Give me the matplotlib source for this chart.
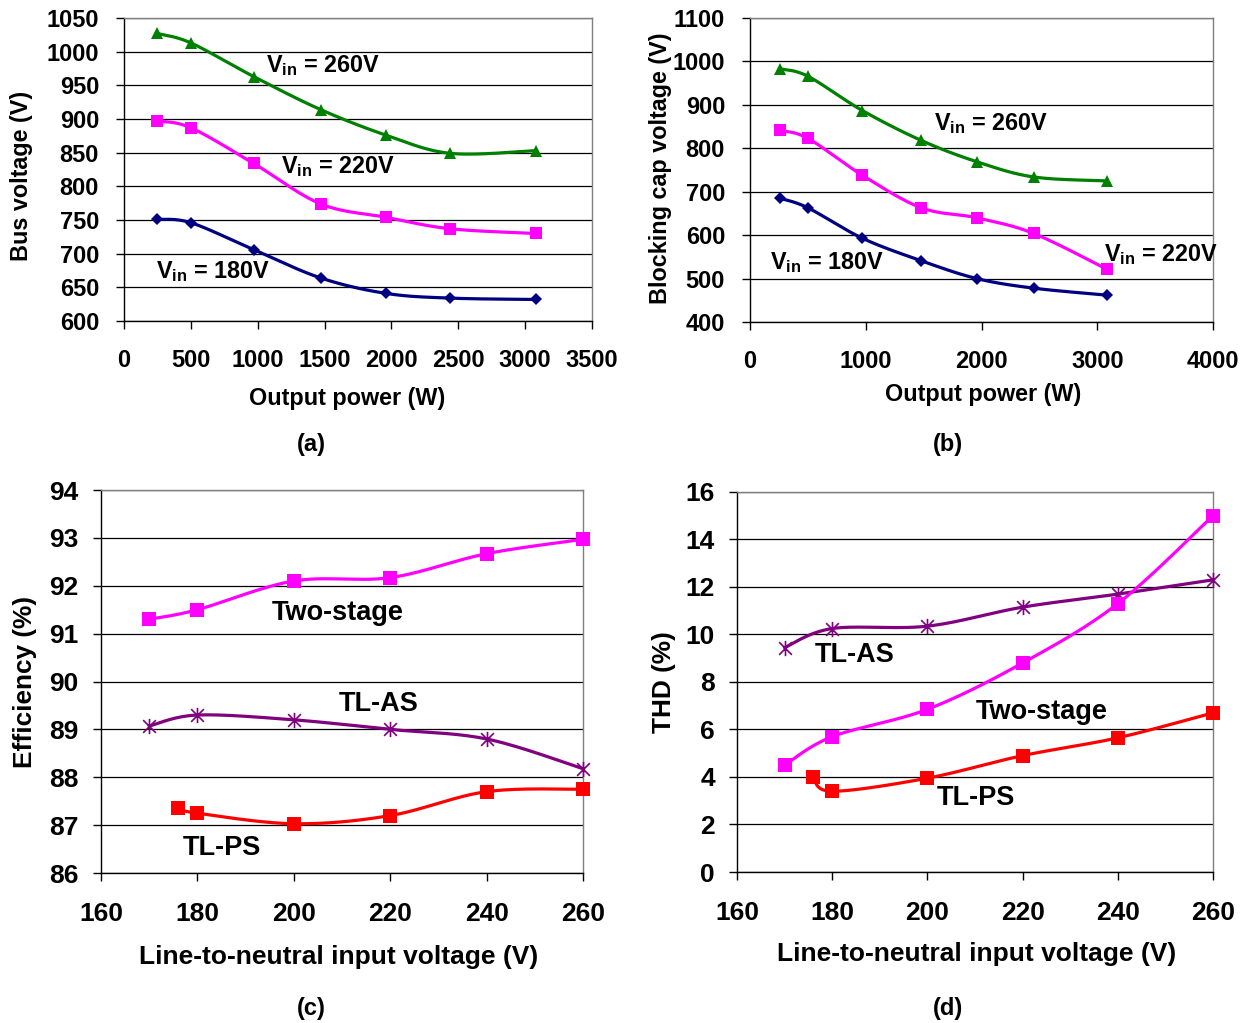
import numpy as np
import matplotlib
matplotlib.use("Agg")
import matplotlib.pyplot as plt
from matplotlib.path import Path

plt.rcParams['font.family'] = ['Liberation Sans', 'DejaVu Sans']
plt.rcParams['font.weight'] = 'bold'
plt.rcParams['mathtext.fontset'] = 'custom'
plt.rcParams['mathtext.rm'] = 'Liberation Sans:bold'
plt.rcParams['mathtext.it'] = 'Liberation Sans:bold'
plt.rcParams['mathtext.bf'] = 'Liberation Sans:bold'

# (a) bus voltage vs output power
pa_x = [250, 500, 970, 1470, 1960, 2440, 3080]
bus_260 = [1027, 1013, 963, 914, 876, 849, 853]
bus_220 = [897, 887, 834, 774, 754, 737, 730]
bus_180 = [751, 746, 706, 664, 641, 634, 632]

# (b) blocking cap voltage vs output power
pb_x = [260, 500, 970, 1480, 1960, 2450, 3080]
cap_260 = [983, 966, 887, 818, 769, 734, 725]
cap_220 = [841, 823, 738, 663, 640, 604, 522]
cap_180 = [685, 663, 593, 541, 500, 478, 462]

# (c) efficiency vs line-to-neutral voltage
vin = [170, 180, 200, 220, 240, 260]
vin_ps = [176, 180, 200, 220, 240, 260]
eff_two = [91.3, 91.5, 92.1, 92.17, 92.67, 92.97]
eff_as = [89.07, 89.3, 89.2, 89.0, 88.8, 88.18]
eff_ps = [87.35, 87.25, 87.03, 87.2, 87.7, 87.75]

# (d) THD
thd_as = [9.45, 10.25, 10.35, 11.15, 11.7, 12.3]
thd_two = [4.5, 5.7, 6.85, 8.8, 11.3, 15.0]
thd_ps = [4.0, 3.4, 3.95, 4.9, 5.65, 6.7]

GREEN = '#008000'
PINK = '#FF00FF'
NAVY = '#000080'
PURPLE = '#800080'
RED = '#FF0000'

# asterisco stile Excel: X + linea verticale
STAR = Path([(-1, -1), (1, 1), (-1, 1), (1, -1), (0, -1.2), (0, 1.2)],
            [Path.MOVETO, Path.LINETO, Path.MOVETO, Path.LINETO, Path.MOVETO, Path.LINETO])


def smooth(x, y, n=30):
    # linea smussata tipo Excel (Bezier attraverso i punti)
    p = np.column_stack([x, y]).astype(float)
    pts = []
    for i in range(len(p) - 1):
        p0 = p[i - 1] if i > 0 else p[i]
        p3 = p[i + 2] if i + 2 < len(p) else p[i + 1]
        c1 = p[i] + (p[i + 1] - p0) / 6
        c2 = p[i + 1] - (p3 - p[i]) / 6
        t = np.linspace(0, 1, n)[:, None]
        seg = (1 - t) ** 3 * p[i] + 3 * (1 - t) ** 2 * t * c1 + 3 * (1 - t) * t ** 2 * c2 + t ** 3 * p[i + 1]
        pts.append(seg if i == 0 else seg[1:])
    s = np.vstack(pts)
    return s[:, 0], s[:, 1]


def serie(ax, x, y, color, marker, ms, mew=0):
    sx, sy = smooth(x, y)
    ax.plot(sx, sy, color=color, lw=2.3, zorder=3)
    ax.plot(x, y, linestyle='none', marker=marker, color=color, markersize=ms,
            markeredgewidth=mew, markeredgecolor=color, zorder=4, clip_on=False)


def stile(ax, xlim, xticks, ylim, yticks, fs, xpad, ypad):
    ax.set_xlim(*xlim)
    ax.set_ylim(*ylim)
    ax.set_xticks(xticks)
    ax.set_yticks(yticks)
    ax.yaxis.grid(True, color='black', lw=0.9)
    ax.set_axisbelow(True)
    for s in ['left', 'bottom']:
        ax.spines[s].set_color('black')
        ax.spines[s].set_linewidth(1.0)
    for s in ['top', 'right']:
        ax.spines[s].set_color('#7f7f7f')
        ax.spines[s].set_linewidth(1.0)
    ax.tick_params(axis='x', direction='out', length=6, width=1, pad=xpad, labelsize=fs)
    ax.tick_params(axis='y', direction='out', length=6, width=1, pad=ypad, labelsize=fs)
    for lab in ax.get_xticklabels() + ax.get_yticklabels():
        lab.set_fontweight('bold')


fig = plt.figure(figsize=(12.49, 10.23), dpi=100)

ax_a = fig.add_axes([0.0993, 0.6862, 0.3747, 0.2962])
ax_b = fig.add_axes([0.6005, 0.6852, 0.3707, 0.2972])
ax_c = fig.add_axes([0.0809, 0.1466, 0.3859, 0.3744])
ax_d = fig.add_axes([0.5901, 0.1476, 0.3811, 0.3715])

VFS = 16.8

# (a)
stile(ax_a, (0, 3500), range(0, 3501, 500), (600, 1050), range(600, 1051, 50), 17, 14, 12)
serie(ax_a, pa_x, bus_260, GREEN, '^', 9)
serie(ax_a, pa_x, bus_220, PINK, 's', 9)
serie(ax_a, pa_x, bus_180, NAVY, 'D', 6)
ax_a.text(1062, 979, r'V$_{\mathrm{in}}$ = 260V', fontsize=VFS, va='center', ha='left')
ax_a.text(1174, 829, r'V$_{\mathrm{in}}$ = 220V', fontsize=VFS, va='center', ha='left')
ax_a.text(239, 673, r'V$_{\mathrm{in}}$ = 180V', fontsize=VFS, va='center', ha='left')

# (b)
stile(ax_b, (0, 4000), range(0, 4001, 1000), (400, 1100), range(400, 1101, 100), 17, 14, 12)
serie(ax_b, pb_x, cap_260, GREEN, '^', 9)
serie(ax_b, pb_x, cap_220, PINK, 's', 9)
serie(ax_b, pb_x, cap_180, NAVY, 'D', 6)
ax_b.text(1586, 858, r'V$_{\mathrm{in}}$ = 260V', fontsize=VFS, va='center', ha='left')
ax_b.text(3060, 556, r'V$_{\mathrm{in}}$ = 220V', fontsize=VFS, va='center', ha='left')
ax_b.text(172, 538, r'V$_{\mathrm{in}}$ = 180V', fontsize=VFS, va='center', ha='left')

# (c)
stile(ax_c, (160, 260), range(160, 261, 20), (86, 94), range(86, 95, 1), 19, 15, 10)
serie(ax_c, vin, eff_two, PINK, 's', 10)
serie(ax_c, vin, eff_as, PURPLE, STAR, 11, mew=1.2)
serie(ax_c, vin_ps, eff_ps, RED, 's', 10)
ax_c.text(209.2, 91.43, 'Two-stage', fontsize=19.5, va='center', ha='center')
ax_c.text(217.5, 89.53, 'TL-AS', fontsize=19.5, va='center', ha='center')
ax_c.text(185.1, 86.53, 'TL-PS', fontsize=19.5, va='center', ha='center')

# (d)
stile(ax_d, (160, 260), range(160, 261, 20), (0, 16), range(0, 17, 2), 19, 15, 10)
serie(ax_d, vin, thd_as, PURPLE, STAR, 11, mew=1.2)
serie(ax_d, vin, thd_two, PINK, 's', 10)
serie(ax_d, vin_ps, thd_ps, RED, 's', 10)
ax_d.text(184.8, 9.14, 'TL-AS', fontsize=19.5, va='center', ha='center')
ax_d.text(223.9, 6.74, 'Two-stage', fontsize=19.5, va='center', ha='center')
ax_d.text(210.2, 3.12, 'TL-PS', fontsize=19.5, va='center', ha='center')

# titoli degli assi e didascalie
W, H = 1249.0, 1023.0


def ftxt(x, y, s, rot=0, size=16.8):
    fig.text(x / W, 1 - y / H, s, fontsize=size, ha='center', va='center', rotation=rot, fontweight='bold')


ftxt(22, 176, 'Bus voltage (V)', rot=90)
ftxt(347, 398, 'Output power (W)')
ftxt(660, 168, 'Blocking cap voltage (V)', rot=90)
ftxt(983, 394, 'Output power (W)')
ftxt(25, 682, 'Efficiency (%)', rot=90, size=18.9)
ftxt(339, 957, 'Line-to-neutral input voltage (V)', size=19)
ftxt(664, 682, 'THD (%)', rot=90, size=18.9)
ftxt(977, 954, 'Line-to-neutral input voltage (V)', size=19)
ftxt(311, 444, '(a)', size=17)
ftxt(948, 444, '(b)', size=17)
ftxt(311, 1008, '(c)', size=17)
ftxt(948, 1008, '(d)', size=17)

fig.savefig('out.png', dpi=100)
